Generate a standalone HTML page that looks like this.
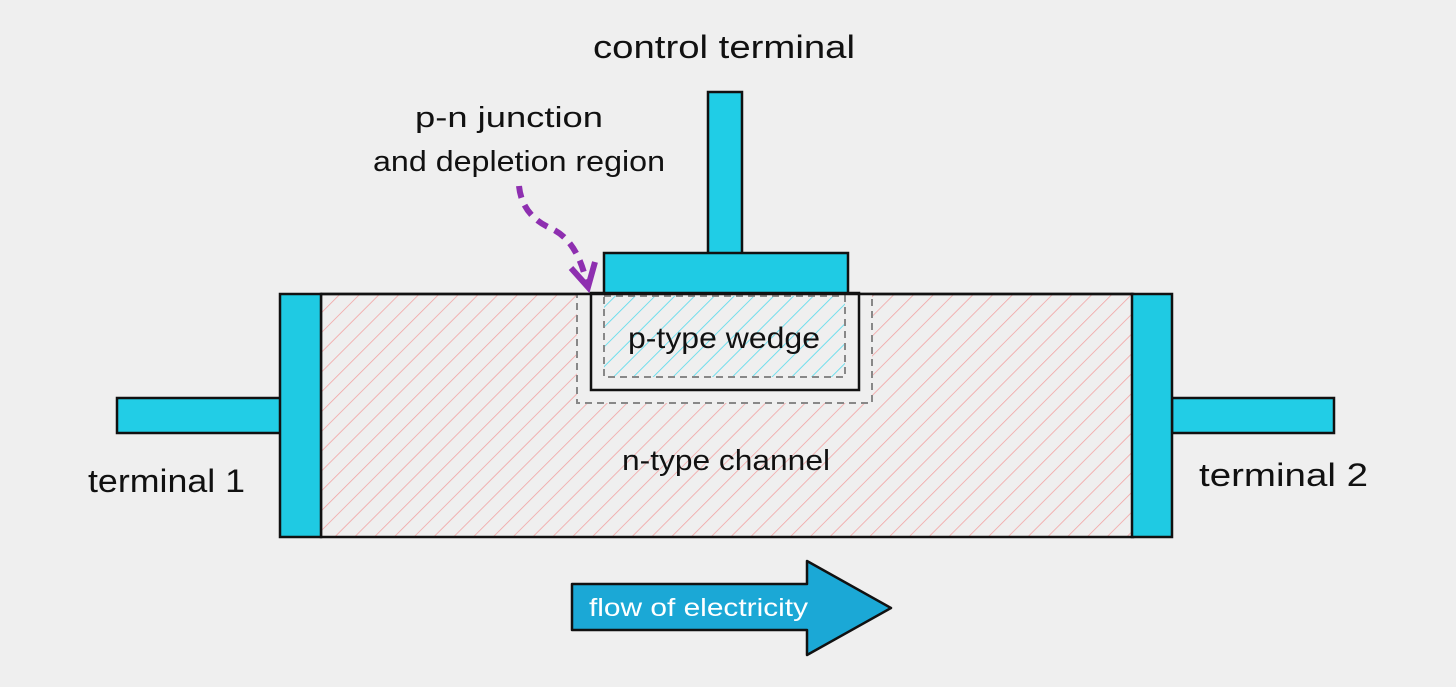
<!DOCTYPE html>
<html><head><style>
html,body{margin:0;padding:0;background:#f0f0f0;}
svg{display:block}
text{font-family:"Liberation Sans",sans-serif;fill:#111;}
</style></head><body>
<svg width="1456" height="687" viewBox="0 0 1456 687" xmlns="http://www.w3.org/2000/svg">
<defs>
<pattern id="red" width="14" height="14" patternUnits="userSpaceOnUse" patternTransform="rotate(45)">
<line x1="0" y1="0" x2="0" y2="14" stroke="#f2a0a0" stroke-width="1.5"/></pattern>
<pattern id="cyan" width="14" height="14" patternUnits="userSpaceOnUse" patternTransform="rotate(45)">
<line x1="0" y1="0" x2="0" y2="14" stroke="#5cdcec" stroke-width="1.7"/></pattern>
</defs>
<rect width="1456" height="687" fill="#efefef"/>
<rect x="321" y="294" width="812" height="243" fill="url(#red)" stroke="#111" stroke-width="2.5"/>
<rect x="577" y="294" width="295" height="109" fill="#efefef" stroke="#888" stroke-width="2" stroke-dasharray="7,5"/>
<rect x="591" y="293" width="268" height="97" fill="#efefef" stroke="#111" stroke-width="2.5"/>
<rect x="604" y="296" width="241" height="81" fill="url(#cyan)" stroke="#888" stroke-width="2" stroke-dasharray="7,5"/>
<line x1="321" y1="294" x2="1133" y2="294" stroke="#111" stroke-width="2.5"/>
<rect x="708" y="92" width="34" height="162" fill="#20cde6" stroke="#111" stroke-width="2.5"/>
<rect x="604" y="253" width="244" height="40" fill="#1fcbe4" stroke="#111" stroke-width="2.5"/>
<rect x="117" y="398" width="165" height="35" fill="#22cde6" stroke="#111" stroke-width="2.5"/>
<rect x="280" y="294" width="41" height="243" fill="#1fcae3" stroke="#111" stroke-width="2.5"/>
<rect x="1172" y="398" width="162" height="35" fill="#22cde6" stroke="#111" stroke-width="2.5"/>
<rect x="1132" y="294" width="40" height="243" fill="#1fcae3" stroke="#111" stroke-width="2.5"/>
<path d="M519 186 Q522 215 550 228 Q578 240 587 285" fill="none" stroke="#8e2fb0" stroke-width="6" stroke-dasharray="12,8"/>
<path d="M571 268 L588 287 L595 262" fill="none" stroke="#8e2fb0" stroke-width="6"/>
<path d="M572 584 L807 584 L807 561 L891 608 L807 655 L807 630 L572 630 Z" fill="#1ba8d6" stroke="#111" stroke-width="2.5" stroke-linejoin="round"/>
<text x="589" y="616" font-size="25" textLength="219" lengthAdjust="spacingAndGlyphs" style="fill:#fff">flow of electricity</text>
<text x="593" y="58" font-size="32" textLength="262" lengthAdjust="spacingAndGlyphs">control terminal</text>
<text x="415" y="127" font-size="29" textLength="188" lengthAdjust="spacingAndGlyphs">p-n junction</text>
<text x="373" y="171" font-size="29" textLength="292" lengthAdjust="spacingAndGlyphs">and depletion region</text>
<text x="628" y="348" font-size="30" textLength="192" lengthAdjust="spacingAndGlyphs">p-type wedge</text>
<text x="622" y="470" font-size="29" textLength="208" lengthAdjust="spacingAndGlyphs">n-type channel</text>
<text x="88" y="492" font-size="32" textLength="157" lengthAdjust="spacingAndGlyphs">terminal 1</text>
<text x="1199" y="486" font-size="32" textLength="169" lengthAdjust="spacingAndGlyphs">terminal 2</text>
</svg>
</body></html>
